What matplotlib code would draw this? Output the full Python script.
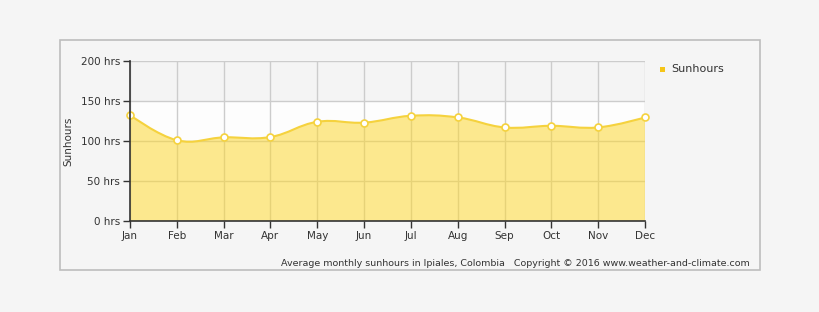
import numpy as np
import matplotlib
matplotlib.use("Agg")
import matplotlib.pyplot as plt
from matplotlib.path import Path
from matplotlib.patches import PathPatch, Rectangle

# monthly average sunhours, Ipiales
months = ['Jan', 'Feb', 'Mar', 'Apr', 'May', 'Jun', 'Jul', 'Aug', 'Sep', 'Oct', 'Nov', 'Dec']
sunhours = [132.5, 101, 104.5, 105, 124, 123, 131.5, 129.5, 117, 119, 117, 129.5]
yticks = [0, 50, 100, 150, 200]
ytick_labels = ['0 hrs', '50 hrs', '100 hrs', '150 hrs', '200 hrs']

FILL = '#fcd734'
LINE = '#f5d23e'


def spline_path(x, y, smoothing=1.5):
    # highcharts-like bezier spline through the points
    denom = smoothing + 1
    verts = [(x[0], y[0])]
    codes = [Path.MOVETO]
    ctrl = []
    n = len(x)
    for i in range(n):
        if i == 0 or i == n - 1:
            ctrl.append(((x[i], y[i]), (x[i], y[i])))
            continue
        lx = (smoothing * x[i] + x[i - 1]) / denom
        ly = (smoothing * y[i] + y[i - 1]) / denom
        rx = (smoothing * x[i] + x[i + 1]) / denom
        ry = (smoothing * y[i] + y[i + 1]) / denom
        corr = (ry - ly) * (rx - x[i]) / (rx - lx) + y[i] - ry
        ly += corr
        ry += corr
        ctrl.append(((lx, ly), (rx, ry)))
    for i in range(1, n):
        verts += [ctrl[i - 1][1], ctrl[i][0], (x[i], y[i])]
        codes += [Path.CURVE4] * 3
    return verts, codes


fig = plt.figure(figsize=(8.2, 3.12), dpi=100, facecolor='#f5f5f5')
# outer frame
fig.patches.append(Rectangle((60 / 820, 1 - 270 / 312), 700 / 820, 230 / 312,
                             transform=fig.transFigure, facecolor='none',
                             edgecolor='#bdbdbd', linewidth=1.2, zorder=5))

ax = fig.add_axes([130 / 820, 1 - 221 / 312, 515 / 820, 160 / 312])
ax.set_facecolor('#f4f4f4')
x = np.arange(len(months))
ax.set_xlim(0, len(months) - 1)
ax.set_ylim(0, 200)

# lighter band below 150
ax.axhspan(0, 150, color='#fdfdfd', zorder=0, lw=0)

ax.set_xticks(x)
ax.set_xticklabels(months)
ax.set_yticks(yticks)
ax.set_yticklabels(ytick_labels)
ax.grid(True, color='#cccccc', lw=1, zorder=1)
ax.set_axisbelow(True)

verts, codes = spline_path(list(x), sunhours)
line_path = Path(verts, codes)
fill_verts = verts + [(x[-1], 0), (x[0], 0), verts[0]]
fill_codes = codes + [Path.LINETO, Path.LINETO, Path.CLOSEPOLY]
ax.add_patch(PathPatch(Path(fill_verts, fill_codes), facecolor=FILL, alpha=0.55,
                       edgecolor='none', zorder=2))
ax.add_patch(PathPatch(line_path, facecolor='none', edgecolor=LINE, lw=1.5, zorder=3))
ax.plot(x, sunhours, 'o', ms=5, mfc='white', mec=LINE, mew=1.2, zorder=4, clip_on=False)

for s in ('top', 'right'):
    ax.spines[s].set_visible(False)
for s in ('left', 'bottom'):
    ax.spines[s].set_color('#333333')
    ax.spines[s].set_linewidth(1.2)
    ax.spines[s].set_zorder(5)
ax.tick_params(axis='both', colors='#333333', labelcolor='#333333', labelsize=7.5,
               length=5, width=1, pad=2)
ax.set_ylabel('Sunhours', fontsize=7.5, color='#333333', labelpad=5)

# legend
fig.patches.append(Rectangle((660 / 820, 1 - 72 / 312), 5 / 820, 5 / 312,
                             transform=fig.transFigure, facecolor='#f5c518', edgecolor='none'))
fig.text(671 / 820, 1 - 69.5 / 312, 'Sunhours', fontsize=8, color='#333333', va='center')

fig.text(750 / 820, 1 - 263 / 312,
         'Average monthly sunhours in Ipiales, Colombia   Copyright \u00a9 2016 www.weather-and-climate.com',
         fontsize=6.8, color='#333333', ha='right', va='center')

fig.savefig('out.png', dpi=100, facecolor=fig.get_facecolor())
